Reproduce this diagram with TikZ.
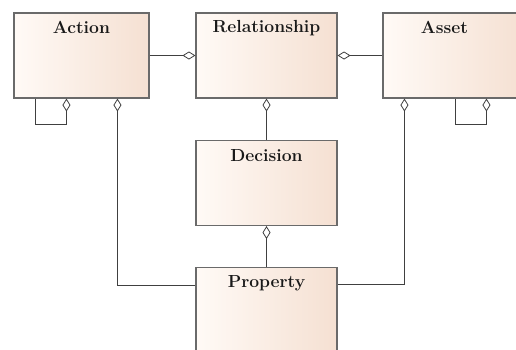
\documentclass[tikz,border=0pt]{standalone}
\usetikzlibrary{arrows.meta,calc}
\definecolor{boxleft}{HTML}{FFFAF6}
\definecolor{boxright}{HTML}{F5E0D2}
\definecolor{boxborder}{HTML}{6A6A6A}
\definecolor{wire}{HTML}{404040}
\tikzset{
  umlbox/.style={draw=boxborder, line width=1.1pt, rectangle, inner sep=0pt,
    minimum width=141pt, minimum height=85pt, left color=boxleft, right color=boxright},
  title/.style={anchor=north, inner sep=0pt, font=\fontsize{17.5}{21}\selectfont\bfseries, text=black!90},
  dia/.tip={Diamond[length=13pt, width=8pt, fill=white, line width=0.8pt]},
  conn/.style={draw=wire, line width=0.8pt},
  aggend/.style={conn, -dia},
  aggstart/.style={conn, dia-}
}
\begin{document}
\begin{tikzpicture}[x=1pt,y=1pt]
\useasboundingbox (0,0) rectangle (516,-349);
\fill[white] (0,0) rectangle (516,-349);
\clip (0,0) rectangle (516,-349);
\node[umlbox, minimum width=135pt] (action) at (81.5,-55.5) {};
\node[umlbox] (rel) at (266.5,-55.5) {};
\node[umlbox] (asset) at (453.5,-55.5) {};
\node[umlbox] (dec) at (266.5,-183) {};
\node[umlbox] (prop) at (266.5,-310) {};
\node[title] (actionlbl) at ($(action.north)+(0,-9)$) {Action};
\node[title] (rellbl) at ($(rel.north)+(0,-8)$) {Relationship};
\node[title] (assetlbl) at ($(asset.north)+(-9,-9)$) {Asset};
\node[title] (declbl) at ($(dec.north)+(0,-9)$) {Decision};
\node[title] (proplbl) at ($(prop.north)+(0,-8)$) {Property};
% horizontal aggregations
\draw[aggend] (action.east) -- (rel.west);
\draw[aggend] (asset.west) -- (rel.east);
% self loops
\draw[aggend] ($(action.south west)+(22,0)$) -- ++(0,-26) -| ($(action.south west)+(53,0)$);
\draw[aggend] ($(asset.south west)+(73,0)$) -- ++(0,-26) -| ($(asset.south west)+(104,0)$);
% vertical
\draw[aggstart] (rel.south) -- (dec.north);
\draw[aggstart] (dec.south) -- (prop.north);
\draw[aggstart] ($(action.south west)+(104,0)$) |- ($(prop.north west)+(0,-18)$);
\draw[aggstart] ($(asset.south west)+(22,0)$) |- ($(prop.north east)+(0,-17)$);
\end{tikzpicture}
\end{document}
